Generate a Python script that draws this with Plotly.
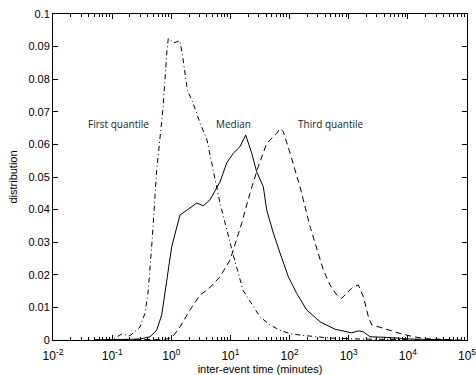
import math
import plotly.graph_objects as go

# inter-event time (minutes)
first_x = [0.05, 0.063, 0.1, 0.145, 0.2, 0.296, 0.36, 0.404, 0.472, 0.566, 0.724, 0.838, 0.89,
           1.11, 1.40, 1.56, 1.87, 2.33, 3.06, 4.02, 5.48, 6.67, 10.6, 16.3, 31.6, 46.8, 68.9,
           100, 150, 483, 1550, 7400, 31600]
first_y = [0, 0, 0.0002, 0.0018, 0.0013, 0.004, 0.0083, 0.0144, 0.030, 0.052, 0.071, 0.088, 0.0925,
           0.0912, 0.0918, 0.0869, 0.0767, 0.0727, 0.0666, 0.0613, 0.050, 0.042, 0.0276, 0.0153,
           0.0071, 0.0046, 0.003, 0.002, 0.0015, 0.0006, 0.0003, 0.0001, 0]

median_x = [0.05, 0.1, 0.296, 0.437, 0.566, 0.689, 0.838, 1.016, 1.40, 1.82, 2.69, 3.48, 4.52,
            6.67, 8.65, 11.2, 14.5, 18.1, 22.9, 27.8, 36.0, 41.0, 53.2, 68.9, 95.3, 132, 195, 327,
            586, 1122, 1452, 1766, 2291, 4395, 10890, 34700, 60000]
median_y = [0, 0.0001, 0.0003, 0.001, 0.003, 0.0077, 0.0175, 0.0286, 0.0383, 0.0399, 0.042, 0.0412,
            0.043, 0.0485, 0.0543, 0.0573, 0.0593, 0.0629, 0.0573, 0.0516, 0.047, 0.0399, 0.0328,
            0.0267, 0.0194, 0.0143, 0.0092, 0.0056, 0.0033, 0.0022, 0.0028, 0.0025, 0.001, 0.0008,
            0.0003, 0.0001, 0]

third_x = [0.05, 0.5, 0.8, 1.04, 1.40, 2.07, 3.06, 4.23, 6.67, 9.84, 11.2, 15.5, 21.4, 29.6, 41.0,
           60.7, 68.9, 78.3, 102, 150, 222, 306, 372, 483, 627, 762, 1122, 1452, 1766, 2148, 2449,
           3388, 4677, 7362, 12360, 20800, 51300, 80000]
third_y = [0, 0, 0.0002, 0.0008, 0.004, 0.0092, 0.0138, 0.0156, 0.0194, 0.0245, 0.0276, 0.0358,
           0.045, 0.0532, 0.0603, 0.0634, 0.0649, 0.0639, 0.0573, 0.047, 0.0348, 0.0262, 0.0215,
           0.0169, 0.0138, 0.0128, 0.0159, 0.0169, 0.0133, 0.0072, 0.0046, 0.0039, 0.0031, 0.002,
           0.001, 0.0004, 0.0001, 0]

x_tickvals = [0.01, 0.1, 1, 10, 100, 1000, 10000, 100000]
x_ticktext = ["10<sup>-2</sup>", "10<sup>-1</sup>", "10<sup>0</sup>", "10<sup>1</sup>",
              "10<sup>2</sup>", "10<sup>3</sup>", "10<sup>4</sup>", "10<sup>5</sup>"]

labels = ["First quantile", "Median", "Third quantile"]
label_x = [0.126, 11.1, 500]
label_y = [0.0663, 0.0663, 0.0663]

fig = go.Figure()
fig.add_trace(go.Scatter(x=first_x, y=first_y, mode="lines", name=labels[0],
                         line=dict(color="black", width=1, dash="5px,3px,1px,3px")))
fig.add_trace(go.Scatter(x=median_x, y=median_y, mode="lines", name=labels[1],
                         line=dict(color="black", width=1)))
fig.add_trace(go.Scatter(x=third_x, y=third_y, mode="lines", name=labels[2],
                         line=dict(color="black", width=1, dash="6px,4px")))

for t, x, y in zip(labels, label_x, label_y):
    # annotation x on a log axis is given in log10 units
    fig.add_annotation(x=math.log10(x), y=y, xref="x", yref="y", text=t, showarrow=False,
                       xanchor="center", yanchor="middle",
                       font=dict(family="Open Sans", size=10, color="#222"))

axis_common = dict(showline=True, linecolor="black", linewidth=1, mirror="allticks",
                   ticks="inside", ticklen=5, tickcolor="black", showgrid=False, zeroline=False,
                   automargin=False, ticklabeloverflow="allow")

fig.update_xaxes(type="log", range=[-2, 5], tickmode="array",
                 tickvals=x_tickvals, ticktext=x_ticktext, ticklabelstandoff=5,
                 tickfont=dict(family="Liberation Sans", size=12, color="black"),
                 minor=dict(ticks="inside", ticklen=3, tickcolor="black", dtick="D1", showgrid=False),
                 title=dict(text="inter-event time (minutes)", standoff=2,
                            font=dict(family="Liberation Sans", size=11, color="black")),
                 **axis_common)
fig.update_yaxes(range=[0, 0.1], dtick=0.01,
                 tickfont=dict(family="Liberation Sans", size=11, color="black"),
                 title=dict(text="distribution", standoff=8,
                            font=dict(family="Liberation Sans", size=11, color="black")),
                 **axis_common)

fig.update_layout(width=476, height=375, margin=dict(l=53, r=9, t=14, b=35),
                  plot_bgcolor="white", paper_bgcolor="white", showlegend=False)

fig.write_html("out.html", config={"displayModeBar": False},
               post_script="document.body.style.margin='0';")
